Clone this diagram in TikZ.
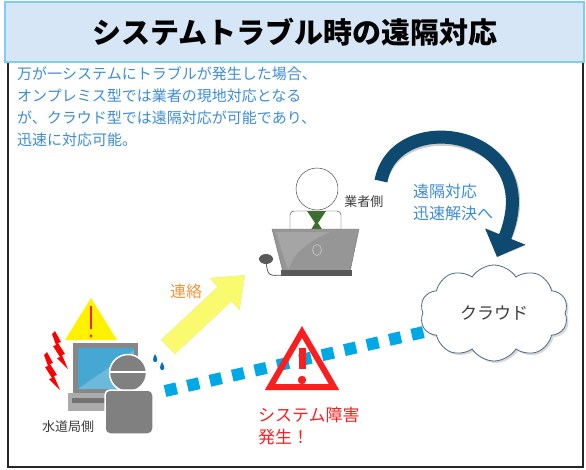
\documentclass[tikz,border=0pt]{standalone}
\usepackage{fontspec}
\setmainfont{Noto Sans CJK JP}
\usepackage{tikz}
\usetikzlibrary{positioning, arrows.meta, shapes.symbols, shadows}

\definecolor{titlefill}{RGB}{214,230,246}
\definecolor{titleline}{RGB}{125,205,245}
\definecolor{noteblue}{RGB}{60,140,215}
\definecolor{arcblue}{RGB}{14,74,112}
\definecolor{linkcyan}{RGB}{0,168,230}
\definecolor{alertred}{RGB}{250,30,30}
\definecolor{callyellow}{RGB}{250,250,110}
\definecolor{callorange}{RGB}{240,150,60}
\definecolor{labelgray}{RGB}{60,60,60}
\definecolor{figgray}{RGB}{128,128,128}
\definecolor{pcgray}{RGB}{150,150,150}
\definecolor{screenblue}{RGB}{70,168,210}
\definecolor{tiegreen}{RGB}{60,110,50}
\definecolor{cloudline}{RGB}{75,105,135}

\begin{document}
\begin{tikzpicture}[x=1pt, y=-1pt,
    jp/.style={inner sep=0pt, align=left},
    caption/.style={jp, font=\fontsize{13}{15}\selectfont, text=labelgray},
    bluetext/.style={jp, font=\fontsize{16}{22}\selectfont, text=noteblue},
    dotlink/.style={linkcyan, line width=12pt, dash pattern=on 12pt off 11pt},
    callarrow/.style={callyellow, line width=20pt, -{Triangle[width=42pt, length=28pt]}},
    remotearrow/.style={arcblue, line width=13pt, -{Triangle[width=42pt, length=22pt]}},
]
  \useasboundingbox (0,0) rectangle (586,469);

  % frame and title bar
  \draw[black!85, line width=1.5pt] (8,62) rectangle (583,467);
  \draw[titleline, fill=titlefill, line width=2pt] (5,2) rectangle (584,62);
  \node[font=\fontsize{29}{32}\selectfont\bfseries] (title) at (295,32) {システムトラブル時の遠隔対応};

  \node[jp, font=\fontsize{15}{22}\selectfont, text=noteblue, anchor=north west] (note) at (17,66)
    {万が一システムにトラブルが発生した場合、\\オンプレミス型では業者の現地対応となる\\が、クラウド型では遠隔対応が可能であり、\\迅速に対応可能。};

  % cloud
  \node[cloud, cloud puffs=10, cloud puff arc=115, aspect=1.6, draw=cloudline, fill=white,
        minimum width=148pt, minimum height=96pt, line width=0.8pt,
        drop shadow={opacity=0.3, shadow xshift=2pt, shadow yshift=-2pt},
        font=\fontsize{17}{20}\selectfont, text=labelgray] (cloud) at (494,313) {クラウド};

  % link from the water bureau to the cloud
  \coordinate (linkS) at (165,391);
  \coordinate (linkE) at (424,332);
  \draw[dotlink] (linkS) -- (linkE);

  % remote support arrow
  \coordinate (arcS) at (381,181);
  \coordinate (arcE) at (497,257);
  \draw[remotearrow, black, opacity=0.2, xshift=3pt, yshift=-3pt]
    (arcS) .. controls (395,105) and (548,130) .. (arcE);
  \draw[remotearrow] (arcS) .. controls (395,105) and (548,130) .. (arcE);
  \node[bluetext, anchor=north west] (remote) at (413,184) {遠隔対応\\迅速解決へ};

  % contact arrow
  \coordinate (callS) at (168,347);
  \coordinate (callE) at (245,275);
  \draw[callarrow, black, opacity=0.2, xshift=3pt, yshift=-3pt] (callS) -- (callE);
  \draw[callarrow] (callS) -- (callE);
  \node[jp, font=\fontsize{16}{20}\selectfont, text=callorange] (call) at (186,291) {連絡};

  % fault warning
  \draw[alertred, line width=6pt, line join=miter] (302,332) -- (334,387) -- (270,387) -- cycle;
  \draw[alertred, line width=7pt] (302,348) -- (302,369);
  \fill[alertred] (302,380) circle (4.2);
  \node[jp, font=\fontsize{17}{22}\selectfont, text=alertred, anchor=north west] (fault) at (258,407)
    {システム障害\\発生！};

  % vendor side
  \draw[black!80, fill=white, rounded corners=4pt] (290,242) -- (290,211) -- (341,211) -- (341,242);
  \fill[tiegreen] (307,211) -- (326,211) -- (318,223) -- (329,240) -- (305,240) -- (315,223) -- cycle;
  \node[circle, draw=black!80, fill=white, minimum size=42pt, inner sep=0pt] (vhead) at (317,189) {};
  \draw[pcgray!60!black, line width=0.8pt] (266,262) .. controls (268,276) .. (284,275);
  \fill[black!65] (266,259) ellipse (7 and 5);
  \draw[pcgray!75!black, fill=pcgray] (272,229) -- (359,229) -- (350,272) -- (283,272) -- cycle;
  \fill[white, opacity=0.15] (276,232) -- (330,232) .. controls (300,245) and (292,258) .. (288,270) -- cycle;
  \draw[black!25, line width=0.8pt] (317,250) ellipse (4.5 and 5.5);
  \fill[black!65] (281,270) rectangle (352,276);
  \node[caption, right=6pt of vhead.east, yshift=-13pt] (vendor) {業者側};

  % water bureau side
  \fill[yellow] (91,298) -- (117,340) -- (65,340) -- cycle;
  \draw[alertred, line width=2.5pt] (91,306) -- (91,329);
  \fill[alertred] (91,336) circle (1.6);
  \fill[pcgray!90!black] (73,343) rectangle (138,393);
  \fill[screenblue] (78,348) rectangle (134,389);
  \fill[white, opacity=0.2] (78,389) -- (134,350) -- (134,389) -- cycle;
  \fill[pcgray!80] (68,393) rectangle (140,411);
  \fill[black!55] (72,398) rectangle (136,403);
  \node[circle, fill=figgray, draw=white, line width=1.5pt, minimum size=37pt, inner sep=0pt] (whead) at (128,373) {};
  \draw[white, line width=1.5pt] ([xshift=1pt, yshift=1pt]whead.west) -- ([xshift=-1pt, yshift=1pt]whead.east);
  \draw[white, fill=figgray, line width=1.5pt, rounded corners=5pt] (105,390) rectangle (153,434);
  \foreach \bx/\by in {55/331, 47/352} {
    \fill[red, shift={(\bx,\by)}] (0,0) -- (6,11) -- (3,12) -- (10,23) -- (7,24) -- (13,38)
      -- (2,27) -- (5,26) -- (-2,15) -- (1,14) -- (-3,3) -- cycle;
  }
  \fill[blue!45!cyan!80!black] (155,354) .. controls (152,359) and (153,362) .. (155,362)
    .. controls (158,362) and (158,359) .. (155,354);
  \fill[blue!45!cyan!80!black] (162,362) .. controls (159,367) and (160,370) .. (162,370)
    .. controls (165,370) and (165,367) .. (162,362);
  \node[caption, anchor=west] (water) at (42,427) {水道局側};
\end{tikzpicture}
\end{document}
